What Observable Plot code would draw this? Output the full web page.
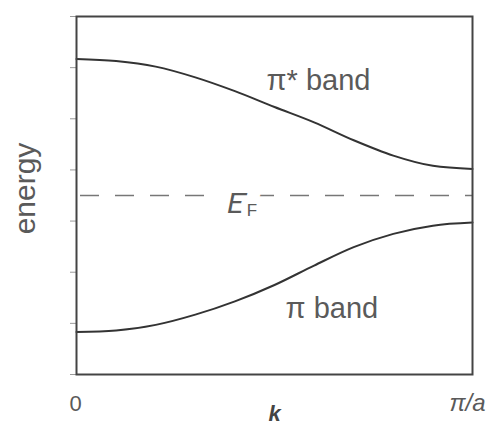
<!DOCTYPE html>
<html>
<head>
<meta charset="utf-8">
<script src="https://cdn.jsdelivr.net/npm/d3@7"></script>
<script src="https://cdn.jsdelivr.net/npm/@observablehq/plot@0.6"></script>
<style>
  html, body { margin: 0; padding: 0; background: #fff; }
  svg { display: block; }
</style>
</head>
<body>
<script>
// wave vector k in units of pi/a
const kValues = [0, 0.1, 0.2, 0.3, 0.4, 0.5, 0.6, 0.7, 0.8, 0.9, 1.0];
// energies (arbitrary units, frame spans 0..7)
const piStarBand = [6.17, 6.13, 6.02, 5.81, 5.54, 5.23, 4.93, 4.58, 4.28, 4.08, 4.02];
const piBand     = [0.83, 0.86, 0.97, 1.17, 1.43, 1.75, 2.13, 2.49, 2.75, 2.91, 2.97];
const fermiEnergy = 3.5;
const yTicks = [0, 1, 2, 3, 4, 5, 6, 7];
const xTickValues = [0, 1];
const xTickLabels = ["0", "π/a"];

const bands = [
  ...kValues.map((k, i) => ({k, e: piStarBand[i], band: "pi*"})),
  ...kValues.map((k, i) => ({k, e: piBand[i], band: "pi"}))
];
const textColor = "#5a5a5a";

const chart = Plot.plot({
  width: 497,
  height: 435,
  marginLeft: 76,
  marginRight: 25,
  marginTop: 16,
  marginBottom: 61,
  x: {domain: [0, 1], axis: null},
  y: {domain: [0, 7], axis: null},
  style: {fontFamily: "'Liberation Sans', Arial, sans-serif", color: textColor, background: "#fff"},
  marks: [
    Plot.axisY({ticks: yTicks, tickSize: 6, tickFormat: () => "", label: null, stroke: "#9a9a9a"}),
    Plot.ruleY([fermiEnergy], {x1: 0, x2: 1, stroke: "#777", strokeWidth: 1.6, strokeDasharray: "19,16", strokeDashoffset: -4}),
    Plot.line(bands, {x: "k", y: "e", z: "band", curve: "monotone-x", stroke: "#333", strokeWidth: 2}),
    Plot.frame({stroke: "#444", strokeWidth: 2}),
    // Fermi level label with white halo that interrupts the dashes
    Plot.text(["E"], {x: 0.405, y: fermiEnergy, dy: 8, text: d => d, fontSize: 30, fontStyle: "italic", fill: textColor, stroke: "white", strokeWidth: 26}),
    Plot.text(["F"], {x: 0.443, y: fermiEnergy, dy: 15, text: d => d, fontSize: 17, fill: textColor, stroke: "white", strokeWidth: 14}),
    // band labels
    Plot.text(["π* band"], {x: 0.48, y: 5.735, text: d => d, textAnchor: "start", fontSize: 29, fill: textColor}),
    Plot.text(["π band"], {x: 0.528, y: 1.277, text: d => d, textAnchor: "start", fontSize: 29, fill: textColor}),
    // x tick labels
    Plot.text([xTickValues[0]], {x: d => d, y: 0, dy: 29, dx: -1, text: () => xTickLabels[0], fontSize: 22, fill: textColor}),
    Plot.text([xTickValues[1]], {x: d => d, y: 0, dy: 29, dx: -5, text: () => xTickLabels[1], fontSize: 24, fontStyle: "italic", fill: textColor}),
    // x axis title
    Plot.text(["k"], {x: 0.5, y: 0, dy: 39, text: d => d, fontSize: 22, fontWeight: "bold", fontStyle: "italic", fill: "#444"}),
    // y axis title
    Plot.text(["energy"], {frameAnchor: "left", textAnchor: "middle", dx: -51, dy: -7, rotate: -90, text: d => d, fontSize: 30, fill: textColor})
  ]
});
document.body.appendChild(chart);
</script>
</body>
</html>
